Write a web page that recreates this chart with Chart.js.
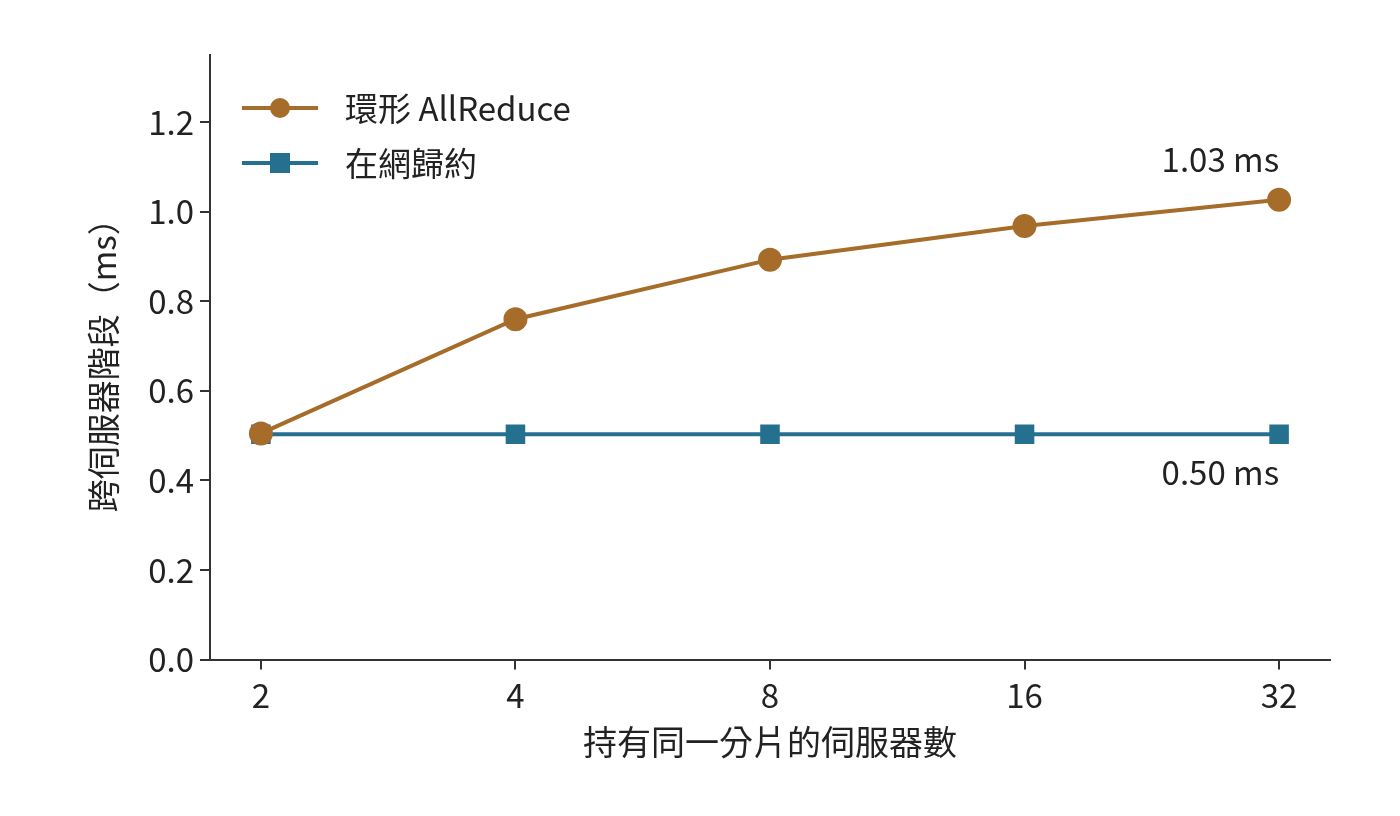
<!DOCTYPE html>
<html><head><meta charset="utf-8">
<script src="https://cdn.jsdelivr.net/npm/chart.js@4/dist/chart.umd.min.js"></script>
<style>html,body{margin:0;background:#fff}#w{width:1400px;height:816px}</style>
</head><body><div id="w"><canvas id="c"></canvas></div>
<script>
const categories=['2','4','8','16','32'];
const ringValues=[0.505,0.76,0.893,0.968,1.027];
const innetValues=[0.503,0.503,0.503,0.503,0.503];
const yTicks=[0,0.2,0.4,0.6,0.8,1.0,1.2];
const seriesNames=['環形 AllReduce','在網歸約'];
const endLabels=['1.03 ms','0.50 ms'];
const yTitle='跨伺服器階段（ms）';
const ORANGE='#a66c2a',BLUE='#26708f',FONT="'Noto Sans CJK TC','Noto Sans',sans-serif";
const pts=v=>v.map((y,i)=>({x:i,y}));
const extra={id:'extra',afterDatasetsDraw(ch){
 const c=ch.ctx,x=ch.scales.x,y=ch.scales.y;c.save();
 c.font='33px '+FONT;c.fillStyle='#222';c.textAlign='right';c.textBaseline='middle';
 c.fillText(endLabels[0],x.getPixelForValue(4),y.getPixelForValue(ringValues[4])-40);
 c.fillText(endLabels[1],x.getPixelForValue(4),y.getPixelForValue(innetValues[4])+38);
 c.save();c.translate(103,(y.top+y.bottom)/2);c.rotate(-Math.PI/2);c.textAlign='center';
 c.fillText(yTitle,0,0);c.restore();
 const items=[[ORANGE,'circle'],[BLUE,'rect']];
 items.forEach((it,k)=>{const ly=108+55*k;c.strokeStyle=it[0];c.fillStyle=it[0];c.lineWidth=4;
  c.beginPath();c.moveTo(242,ly);c.lineTo(318,ly);c.stroke();
  if(it[1]==='circle'){c.beginPath();c.arc(280,ly,10,0,7);c.fill();}else c.fillRect(270,ly-10,20,20);
  c.fillStyle='#222';c.textAlign='left';c.fillText(seriesNames[k],345,ly);});
 c.restore();}};
new Chart(document.getElementById('c'),{type:'line',
 data:{datasets:[
  {data:pts(ringValues),borderColor:ORANGE,backgroundColor:ORANGE,borderWidth:4,pointRadius:10,pointStyle:'circle',pointHoverRadius:10},
  {data:pts(innetValues),borderColor:BLUE,backgroundColor:BLUE,borderWidth:4,pointRadius:11,pointStyle:'rect',pointHoverRadius:11}]},
 options:{responsive:true,maintainAspectRatio:false,animation:false,
  layout:{padding:{left:0,right:70,top:55,bottom:50}},
  plugins:{legend:{display:false},tooltip:{enabled:false}},
  scales:{
   x:{type:'linear',min:-0.2,max:4.2,grid:{display:true,drawOnChartArea:false,tickLength:10,color:'#333',lineWidth:2},border:{color:'#333',width:2},
    afterBuildTicks:s=>{s.ticks=categories.map((_,i)=>({value:i}));},
    ticks:{callback:v=>categories[v],color:'#222',font:{size:33,family:FONT},padding:6},
    title:{display:true,text:'持有同一分片的伺服器數',color:'#222',font:{size:34,family:FONT},padding:{top:0}}},
   y:{min:0,max:1.35,grid:{display:true,drawOnChartArea:false,tickLength:10,color:'#333',lineWidth:2},border:{color:'#333',width:2},
    afterBuildTicks:s=>{s.ticks=yTicks.map(v=>({value:v}));},
    ticks:{callback:v=>v.toFixed(1),color:'#222',font:{size:33,family:FONT},padding:6},
    afterFit:s=>{s.width=210;}}}},
 plugins:[extra]});
</script></body></html>
